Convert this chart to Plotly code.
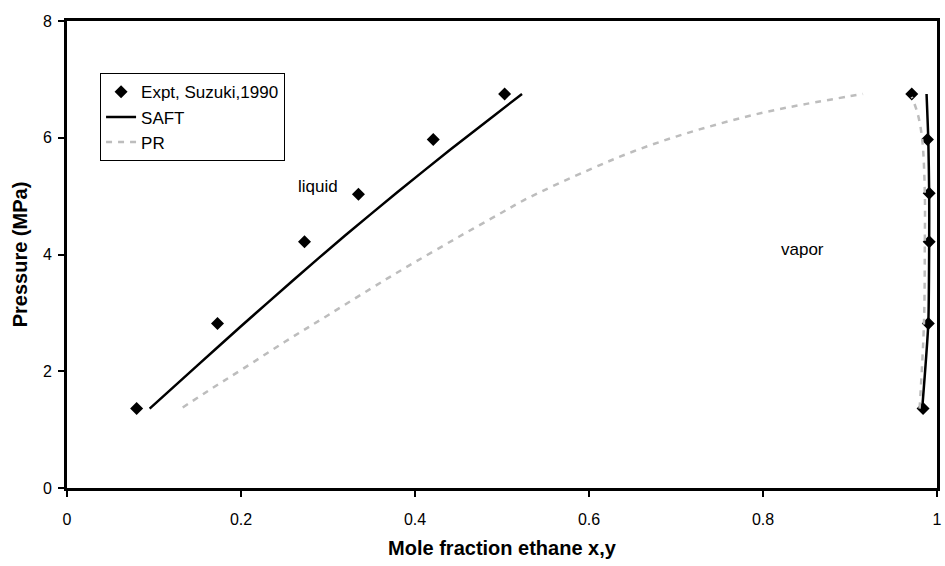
import plotly.graph_objects as go

# Experimental data (Suzuki, 1990): liquid branch and vapor branch
expt_liq_x = [0.080, 0.173, 0.273, 0.335, 0.421, 0.503]
expt_liq_p = [1.36, 2.82, 4.22, 5.03, 5.97, 6.75]
expt_vap_y = [0.984, 0.990, 0.991, 0.991, 0.989, 0.971]
expt_vap_p = [1.36, 2.82, 4.22, 5.05, 5.97, 6.75]

# SAFT model
saft_liq_x = [0.095, 0.15, 0.20, 0.26, 0.32, 0.38, 0.44, 0.49, 0.523]
saft_liq_p = [1.36, 2.10, 2.77, 3.56, 4.33, 5.07, 5.79, 6.37, 6.75]
saft_vap_y = [0.983, 0.990, 0.991, 0.991, 0.990, 0.988]
saft_vap_p = [1.36, 2.82, 4.22, 5.05, 5.97, 6.75]

# PR model
pr_liq_x = [0.133, 0.167, 0.20, 0.25, 0.30, 0.365, 0.40, 0.45, 0.50, 0.529,
            0.60, 0.65, 0.70, 0.75, 0.80, 0.85, 0.915]
pr_liq_p = [1.38, 1.71, 2.02, 2.50, 2.96, 3.56, 3.87, 4.30, 4.72, 4.96,
            5.45, 5.76, 6.02, 6.24, 6.43, 6.58, 6.75]
pr_vap_y = [0.980, 0.985, 0.986, 0.986, 0.983, 0.978, 0.971]
pr_vap_p = [1.36, 2.82, 4.22, 5.05, 5.97, 6.40, 6.70]

x_ticks = [0, 0.2, 0.4, 0.6, 0.8, 1]
x_tick_text = ["0", "0.2", "0.4", "0.6", "0.8", "1"]
y_ticks = [0, 2, 4, 6, 8]

FONT = "Liberation Sans, Arial, sans-serif"

fig = go.Figure()

fig.add_trace(go.Scatter(
    x=expt_liq_x + [None] + expt_vap_y,
    y=expt_liq_p + [None] + expt_vap_p,
    mode="markers", name="Expt, Suzuki,1990",
    marker=dict(symbol="diamond", size=10, color="black"),
))
fig.add_trace(go.Scatter(
    x=saft_liq_x + [None] + saft_vap_y,
    y=saft_liq_p + [None] + saft_vap_p,
    mode="lines", name="SAFT",
    line=dict(color="black", width=2.5, shape="spline", smoothing=0.6),
))
fig.add_trace(go.Scatter(
    x=pr_liq_x + [None] + pr_vap_y,
    y=pr_liq_p + [None] + pr_vap_p,
    mode="lines", name="PR",
    line=dict(color="#BDBDBD", width=2.5, dash="6px,6px", shape="spline"),
))

fig.add_annotation(x=0.289, y=5.17, text="liquid", showarrow=False,
                   font=dict(family=FONT, size=17, color="black"))
fig.add_annotation(x=0.845, y=4.09, text="vapor", showarrow=False,
                   font=dict(family=FONT, size=17, color="black"))

fig.update_layout(
    width=945, height=566,
    margin=dict(l=67, r=3, t=21, b=78),
    paper_bgcolor="white", plot_bgcolor="white",
    font=dict(family=FONT, size=16, color="black"),
    showlegend=True,
    legend=dict(
        x=0.038, y=0.888, xanchor="left", yanchor="top",
        bgcolor="white", bordercolor="black", borderwidth=1,
        font=dict(family=FONT, size=17, color="black"),
        tracegroupgap=0, itemwidth=30,
    ),
    xaxis=dict(
        range=[0, 1], tickvals=x_ticks, ticktext=x_tick_text,
        showgrid=False, zeroline=False,
        showline=True, linecolor="black", linewidth=3, mirror=True,
        ticks="outside", ticklen=6, tickwidth=2, tickcolor="black",
        ticklabelstandoff=9,
        title=dict(text="<b>Mole fraction ethane x,y</b>", font=dict(family=FONT, size=20), standoff=14),
        tickfont=dict(family=FONT, size=16),
    ),
    yaxis=dict(
        range=[0, 8], tickvals=y_ticks,
        showgrid=False, zeroline=False,
        showline=True, linecolor="black", linewidth=3, mirror=True,
        ticks="outside", ticklen=6, tickwidth=2, tickcolor="black",
        ticklabelstandoff=3,
        title=dict(text="<b>Pressure (MPa)</b>", font=dict(family=FONT, size=20), standoff=10),
        tickfont=dict(family=FONT, size=16),
    ),
)

fig.write_html("out.html")
